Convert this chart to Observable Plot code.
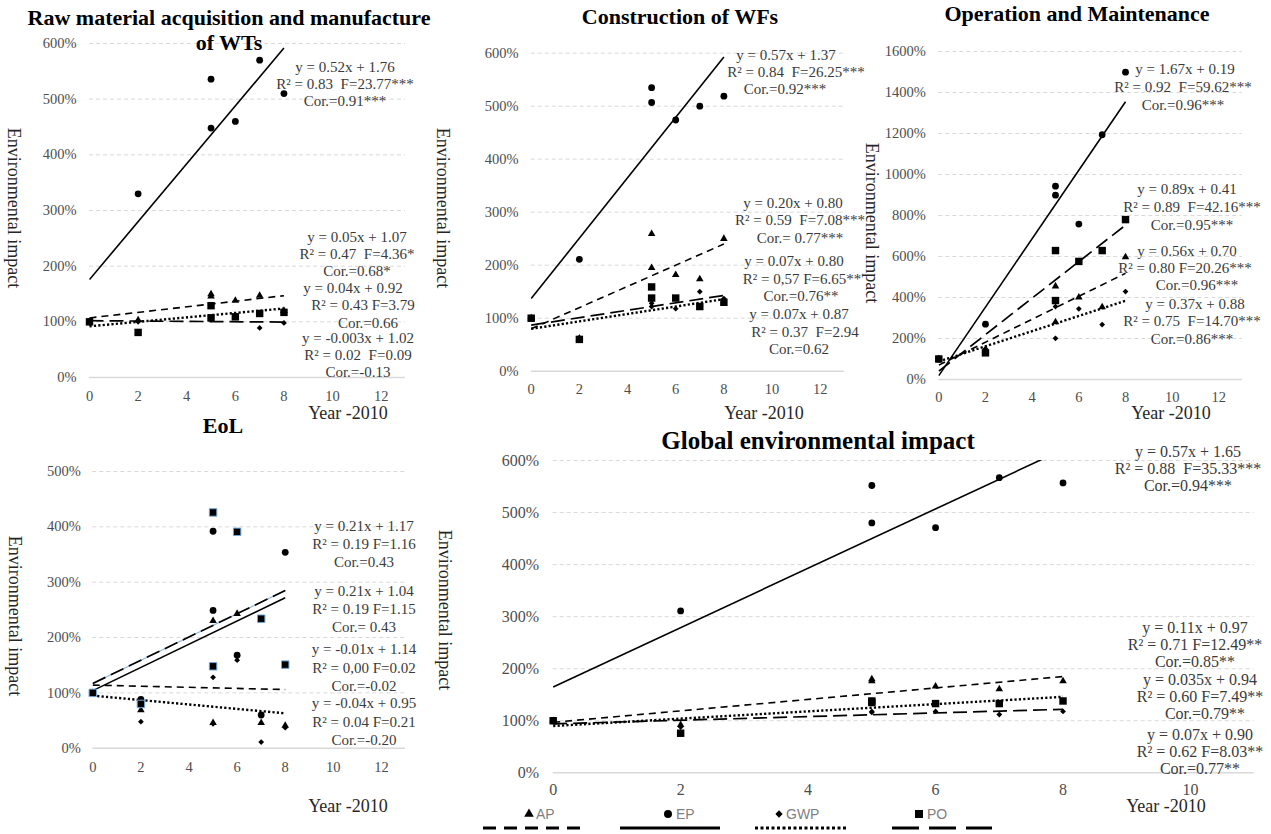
<!DOCTYPE html>
<html>
<head>
<meta charset="utf-8">
<script src="https://cdn.jsdelivr.net/npm/d3@7"></script>
<script src="https://cdn.jsdelivr.net/npm/@observablehq/plot@0.6"></script>
<style>
  body { margin: 0; background: #fff; }
  #chart { position: relative; width: 1271px; height: 834px; overflow: hidden; background: #fff;
           font-family: "Liberation Serif", "Times New Roman", serif; }
  .lbl { position: absolute; white-space: pre; transform: translate(-50%, -50%); line-height: 1; }
</style>
</head>
<body>
<div id="chart"></div>
<script>
// ---------------- DATA ----------------
const years = [0, 2, 5, 5, 6, 7, 8];
const series = ["AP", "EP", "GWP", "PO"];
const fitYears = [0, 8];

// Raw material acquisition and manufacture of WTs
const rawAP  = [100, 103, 150, 146, 138, 147, 120];
const rawEP  = [100, 330, 536, 448, 460, 570, 510];
const rawGWP = [100, 100, 109, 107, 108, 89, 98];
const rawPO  = [100, 81, 129, 107, 109, 115, 117];
const rawSlope = [0.05, 0.52, 0.04, -0.003];
const rawIntercept = [1.07, 1.76, 0.92, 1.02];
const rawLabels = ["y = 0.52x + 1.76", "R² = 0.83  F=23.77***", "Cor.=0.91***",
  "y = 0.05x + 1.07", "R² = 0.47  F=4.36*", "Cor.=0.68*",
  "y = 0.04x + 0.92", "R² = 0.43 F=3.79", "Cor.=0.66",
  "y = -0.003x + 1.02", "R² = 0.02  F=0.09", "Cor.=-0.13"];

// Construction of WFs
const conAP  = [100, 62, 259, 195, 182, 174, 250];
const conEP  = [100, 211, 535, 507, 474, 500, 519];
const conGWP = [100, 62, 128, 122, 118, 150, 137];
const conPO  = [100, 60, 159, 138, 138, 122, 130];
const conSlope = [0.20, 0.57, 0.07, 0.07];
const conIntercept = [0.80, 1.37, 0.80, 0.87];
const conLabels = ["y = 0.57x + 1.37", "R² = 0.84  F=26.25***", "Cor.=0.92***",
  "y = 0.20x + 0.80", "R² = 0.59  F=7.08***", "Cor.= 0.77***",
  "y = 0.07x + 0.80", "R² = 0,57 F=6.65**", "Cor.=0.76**",
  "y = 0.07x + 0.87", "R² = 0.37  F=2.94", "Cor.=0.62"];

// Operation and Maintenance
const omAP  = [100, 143, 455, 280, 401, 353, 597];
const omEP  = [100, 270, 943, 899, 758, 1194, 1499];
const omGWP = [100, 150, 356, 201, 345, 268, 429];
const omPO  = [100, 130, 629, 385, 576, 629, 780];
const omSlope = [0.56, 1.67, 0.37, 0.89];
const omIntercept = [0.70, 0.19, 0.88, 0.41];
const omLabels = ["y = 1.67x + 0.19", "R² = 0.92  F=59.62***", "Cor.=0.96***",
  "y = 0.89x + 0.41", "R² = 0.89  F=42.16***", "Cor.=0.95***",
  "y = 0.56x + 0.70", "R² = 0.80 F=20.26***", "Cor.=0.96***",
  "y = 0.37x + 0.88", "R² = 0.75  F=14.70***", "Cor.=0.86***"];

// EoL
const eolAP  = [100, 69, 230, 46, 243, 46, 41];
const eolEP  = [100, 88, 392, 249, 168, 60, 354];
const eolGWP = [100, 48, 128, 44, 159, 11, 37];
const eolPO  = [100, 80, 426, 148, 391, 234, 151];
const eolSlope = [-0.01, 0.21, -0.04, 0.21];
const eolIntercept = [1.14, 1.04, 0.95, 1.17];
const eolLabels = ["y = 0.21x + 1.17", "R² = 0.19 F=1.16", "Cor.=0.43",
  "y = 0.21x + 1.04", "R² = 0.19 F=1.15", "Cor.= 0.43",
  "y = -0.01x + 1.14", "R² = 0,00 F=0.02", "Cor.=-0.02",
  "y = -0.04x + 0.95", "R² = 0.04 F=0.21", "Cor.=-0.20"];

// Global environmental impact
const gloAP  = [100, 92, 180, 176, 166, 161, 176];
const gloEP  = [100, 311, 552, 480, 471, 567, 557];
const gloGWP = [100, 88, 118, 116, 118, 112, 118];
const gloPO  = [100, 76, 138, 135, 133, 133, 138];
const gloSlope = [0.11, 0.57, 0.07, 0.035];
const gloIntercept = [0.97, 1.65, 0.90, 0.94];
const gloLabels = ["y = 0.57x + 1.65", "R² = 0.88  F=35.33***", "Cor.=0.94***",
  "y = 0.11x + 0.97", "R² = 0.71 F=12.49**", "Cor.=0.85**",
  "y = 0.035x + 0.94", "R² = 0.60 F=7.49**", "Cor.=0.79**",
  "y = 0.07x + 0.90", "R² = 0.62 F=8.03**", "Cor.=0.77**"];

const titles = ["Raw material acquisition and manufacture", "of WTs", "Construction of WFs",
  "Operation and Maintenance", "EoL", "Global environmental impact"];
const yTitle = "Environmental impact";
const xTitle = "Year -2010";

// ---------------- STYLES / LAYOUT ----------------
const chart = document.getElementById("chart");
const serif = "'Liberation Serif', 'Times New Roman', serif";
const tickColor = "#4d4d4d";
const lineStyle = {
  AP: {dash: "7,5", w: 1.6},
  EP: {dash: undefined, w: 1.6},
  GWP: {dash: "2.2,2.2", w: 2.4},
  PO: {dash: "14,6", w: 1.7}
};
const markStyle = {
  AP: {symbol: "triangle", r: 2.8},
  EP: {symbol: "circle", r: 3.4},
  GWP: {symbol: "diamond2", r: 2.6},
  PO: {symbol: "square", r: 4.2}
};

function addText(txt, x, y, o = {}) {
  const d = document.createElement("div");
  d.className = "lbl";
  d.textContent = txt;
  d.style.left = x + "px";
  d.style.top = y + "px";
  d.style.fontSize = (o.size || 15) + "px";
  d.style.fontWeight = o.weight || "normal";
  d.style.color = o.color || "#3a3a3a";
  d.style.fontFamily = o.family || serif;
  if (o.rotate) d.style.transform = "translate(-50%, -50%) rotate(90deg)";
  chart.appendChild(d);
}

function buildPanel(cfg, values, slopes, intercepts, extra = {}) {
  const yTicks = d3.range(0, cfg.yMax + 1, cfg.yStep);
  const xTicks = d3.range(0, cfg.xMax, 2);
  const marks = [
    Plot.ruleY(yTicks.filter(d => d > 0), {stroke: "#d9d9d9", strokeDasharray: "4,3", strokeWidth: 1}),
    Plot.ruleY([0], {stroke: "#d9d9d9", strokeWidth: 1.5})
  ];
  series.forEach((s, i) => {
    const fit = fitYears.map(x => ({x, y: (slopes[i] * x + intercepts[i]) * 100}));
    if (extra.blue === s) marks.push(Plot.line(fit, {x: "x", y: "y", stroke: "#8db4e2", strokeWidth: 1.2}));
    marks.push(Plot.line(fit, {x: "x", y: "y", stroke: "#000", strokeWidth: lineStyle[s].w,
      strokeDasharray: lineStyle[s].dash, strokeLinecap: "butt", clip: true}));
  });
  series.forEach((s, i) => {
    const pts = years.map((x, j) => ({x, y: values[i][j]}));
    marks.push(Plot.dot(pts, {x: "x", y: "y", symbol: markStyle[s].symbol, r: markStyle[s].r, fill: "#000",
      stroke: (extra.blue === s) ? "#6fa8dc" : "none", strokeWidth: 1}));
  });
  marks.push(Plot.axisX(xTicks, {tickSize: 0, tickPadding: cfg.xPad, label: null}));
  marks.push(Plot.axisY(yTicks, {tickSize: 0, tickPadding: cfg.yPad, tickFormat: d => d + "%", label: null}));
  const fs = (cfg.font || 14.5) + "px";
  const svg = Plot.plot({
    width: cfg.w, height: cfg.h,
    marginLeft: cfg.mL, marginRight: cfg.mR, marginTop: cfg.mT, marginBottom: cfg.mB,
    x: {domain: [0, cfg.xMax]},
    y: {domain: [0, cfg.yMax]},
    style: {fontFamily: serif, fontSize: fs, color: tickColor,
            background: "transparent", overflow: "visible"},
    marks
  });
  svg.setAttribute("font-family", serif);
  svg.querySelectorAll("text").forEach(t => {
    t.style.fontFamily = serif;
    t.style.fontSize = fs;
    t.setAttribute("fill", tickColor);
  });
  svg.style.position = "absolute";
  svg.style.left = cfg.left + "px";
  svg.style.top = cfg.top + "px";
  svg.style.maxWidth = "none";
  svg.style.background = "transparent";
  chart.appendChild(svg);
}

// Panels
buildPanel({left: 0, top: 0, w: 430, h: 420, mL: 89, mR: 25, mT: 43, mB: 43, xMax: 13, yMax: 600, yStep: 100, xPad: 13, yPad: 13},
  [rawAP, rawEP, rawGWP, rawPO], rawSlope, rawIntercept);
buildPanel({left: 430, top: 0, w: 440, h: 420, mL: 100.7, mR: 26.2, mT: 52.7, mB: 49.3, xMax: 13, yMax: 600, yStep: 100, xPad: 12.5, yPad: 12.5},
  [conAP, conEP, conGWP, conPO], conSlope, conIntercept);
buildPanel({left: 850, top: 0, w: 421, h: 420, mL: 88.3, mR: 29.3, mT: 51, mB: 41, xMax: 13, yMax: 1600, yStep: 200, xPad: 12.5, yPad: 13},
  [omAP, omEP, omGWP, omPO], omSlope, omIntercept);
buildPanel({left: 0, top: 420, w: 430, h: 414, mL: 92.3, mR: 25, mT: 51, mB: 86.3, xMax: 13, yMax: 500, yStep: 100, xPad: 14, yPad: 12},
  [eolAP, eolEP, eolGWP, eolPO], eolSlope, eolIntercept, {blue: "PO"});
buildPanel({left: 440, top: 420, w: 831, h: 414, mL: 112.7, mR: 17.3, mT: 40, mB: 61.7, xMax: 11, yMax: 600, yStep: 100, xPad: 11, yPad: 14, font: 16},
  [gloAP, gloEP, gloGWP, gloPO], gloSlope, gloIntercept);

// Titles
const tPos = [[229, 18], [229, 43], [680, 17], [1077, 14], [223, 426], [818, 440]];
titles.forEach((t, i) => addText(t, tPos[i][0], tPos[i][1], {size: i === 5 ? 25 : 22, weight: "bold", color: "#000"}));

// Axis titles
[[14, 208], [443, 208], [872, 223], [15, 616], [445, 610]].forEach(p =>
  addText(yTitle, p[0], p[1], {size: 18, color: "#262626", rotate: true}));
[[348, 413], [764, 413], [1171, 413], [348, 806], [1166, 806]].forEach(p =>
  addText(xTitle, p[0], p[1], {size: 18, color: "#262626"}));

// Regression annotations
const labelPos = {
  raw: [[345, 67], [345, 84], [345, 101], [357, 237], [357, 254], [357, 271], [353, 288], [363, 305], [368, 323], [358, 338], [358, 355], [358, 372]],
  con: [[786, 55], [796, 72], [785, 89], [793, 203], [800, 220], [800, 238], [794, 261], [802, 279], [801, 296], [799, 314], [805, 332], [799, 349]],
  om:  [[1185, 69], [1183, 87], [1183, 105], [1187, 189], [1192, 207], [1192, 225], [1187, 251], [1185, 268], [1197, 285], [1195, 304], [1192, 321], [1192, 339]],
  eol: [[364, 526], [364, 544], [364, 562], [364, 591], [364, 609], [364, 627], [364, 649], [364, 668], [364, 686], [364, 703], [364, 722], [364, 740]],
  glo: [[1188, 452], [1188, 469], [1188, 486], [1195, 628], [1195, 645], [1195, 662], [1200, 680], [1200, 697], [1205, 714], [1200, 735], [1200, 752], [1200, 769]]
};
rawLabels.forEach((t, i) => addText(t, ...labelPos.raw[i]));
conLabels.forEach((t, i) => addText(t, ...labelPos.con[i]));
omLabels.forEach((t, i) => addText(t, ...labelPos.om[i]));
eolLabels.forEach((t, i) => addText(t, ...labelPos.eol[i]));
gloLabels.forEach((t, i) => addText(t, ...labelPos.glo[i], {size: 16}));

// Legend
const legendSymbol = {AP: d3.symbolTriangle, EP: d3.symbolCircle, GWP: d3.symbolDiamond2, PO: d3.symbolSquare};
const legendSize = {AP: 40, EP: 50, GWP: 34, PO: 64};
// [marker x, text start x, line x1, line x2]
const legendLayout = {AP: [529, 536, 483, 583], EP: [668, 676, 620, 720], GWP: [779, 786, 755, 847], PO: [919, 927, 892, 992]};
const legendDash = {AP: "13,8", EP: null, GWP: "3,2.5", PO: "27,10"};
const lg = d3.select(chart).append("svg")
  .style("position", "absolute").style("left", "0px").style("top", "800px")
  .attr("width", 1271).attr("height", 34);
series.forEach(s => {
  const [mx, tx, x1, x2] = legendLayout[s];
  lg.append("path").attr("transform", `translate(${mx},14)`)
    .attr("d", d3.symbol(legendSymbol[s], legendSize[s])()).attr("fill", "#000");
  lg.append("text").attr("x", tx).attr("y", 19).attr("fill", "#7f7f7f")
    .style("font-family", "'Liberation Sans', Arial, sans-serif").style("font-size", "14px").text(s);
  lg.append("line").attr("x1", x1).attr("x2", x2).attr("y1", 28).attr("y2", 28)
    .attr("stroke", "#000").attr("stroke-width", 3).attr("stroke-dasharray", legendDash[s]);
});
</script>
</body>
</html>
